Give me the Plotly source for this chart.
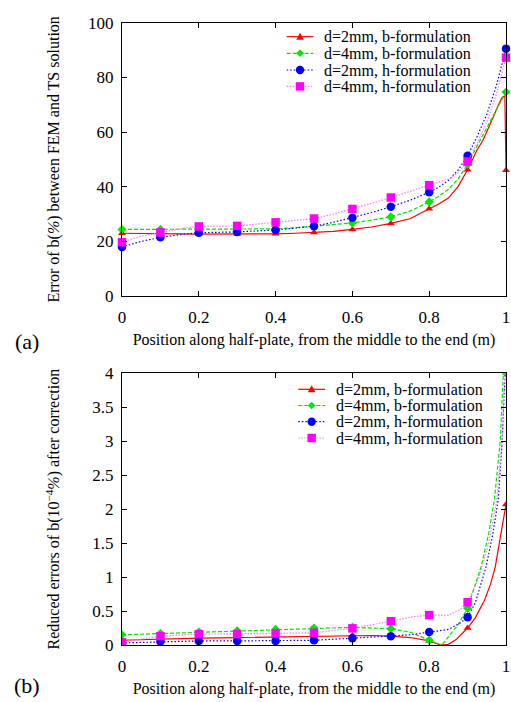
import plotly.graph_objects as go

# ---------------- data: panel (a) ----------------
series_names = ["d=2mm, b-formulation", "d=4mm, b-formulation",
                "d=2mm, h-formulation", "d=4mm, h-formulation"]

x_marks = [0, 0.1, 0.2, 0.3, 0.4, 0.5, 0.6, 0.7, 0.8, 0.9, 1.0]

a_red_x = [0, .05, .1, .15, .2, .25, .3, .35, .4, .45, .5, .55, .6, .65, .7, .75, .8,
           .825, .85, .875, .9, .91, .925, .94, .95, .96, .97, .98, .99, .997, 1.0]
a_red_y = [22.9, 22.9, 22.8, 22.7, 22.6, 22.6, 22.6, 22.6, 22.7, 22.9, 23.2, 23.6, 24.3,
           25.2, 26.5, 28.2, 31.9, 33.6, 35.8, 40.0, 46.2, 49.0, 53.5, 57.0, 60.0, 63.0,
           66.5, 69.9, 72.7, 73.3, 46.0]

a_green_x = [0, .1, .2, .3, .4, .45, .5, .55, .6, .65, .7, .75, .8, .825, .85, .875, .9,
             .925, .95, .975, .99, 1.0]
a_green_y = [24.3, 24.3, 24.3, 24.3, 24.5, 24.9, 25.5, 26.0, 26.7, 27.7, 28.9, 31.0, 34.4,
             36.5, 39.0, 42.8, 48.2, 55.0, 61.5, 68.5, 72.3, 74.7]

a_blue_x = [0, .05, .1, .15, .2, .3, .4, .45, .5, .55, .6, .65, .7, .75, .8, .825, .85,
            .875, .9, .925, .95, .975, 1.0]
a_blue_y = [17.9, 19.9, 21.4, 22.4, 23.1, 23.4, 24.1, 24.7, 25.5, 26.9, 28.6, 30.5, 32.6,
            35.0, 37.9, 39.8, 42.3, 46.0, 51.3, 58.5, 66.5, 77.0, 90.6]

a_mag_x = [0, .05, .1, .15, .2, .3, .4, .45, .5, .55, .6, .65, .7, .75, .8, .825, .85,
           .875, .9, .925, .95, .975, 1.0]
a_mag_y = [19.6, 21.8, 23.2, 24.5, 25.4, 25.6, 26.9, 27.5, 28.3, 29.9, 31.8, 33.9, 36.0,
           38.3, 40.5, 41.6, 42.8, 45.0, 49.2, 56.0, 63.7, 74.0, 87.3]

a_red_marks = [22.9, 22.8, 22.6, 22.6, 22.7, 23.2, 24.3, 26.5, 31.9, 46.2, 46.0]
a_green_marks = [24.3, 24.3, 24.3, 24.3, 24.5, 25.5, 26.7, 28.9, 34.4, 48.2, 74.7]
a_blue_marks = [17.9, 21.4, 23.1, 23.4, 24.1, 25.5, 28.6, 32.6, 37.9, 51.3, 90.6]
a_mag_marks = [19.6, 23.2, 25.4, 25.6, 26.9, 28.3, 31.8, 36.0, 40.5, 49.2, 87.3]

# ---------------- data: panel (b) ----------------
b_red_x = [0, .1, .2, .3, .4, .5, .6, .65, .7, .75, .8, .83, .85, .87, .9, .92, .944,
           .96, .972, .987, 1.0]
b_red_y = [0.07, 0.09, 0.10, 0.11, 0.12, 0.13, 0.14, 0.14, 0.13, 0.11, 0.06, 0.0, 0.01,
           0.08, 0.25, 0.40, 0.66, 0.90, 1.15, 1.65, 2.07]

b_green_x = [0, .1, .2, .3, .4, .5, .6, .7, .75, .8, .833, .85, .875, .9, .935, .955,
             .97, .985, .993, 1.0]
b_green_y = [0.15, 0.17, 0.19, 0.21, 0.23, 0.25, 0.26, 0.24, 0.19, 0.07, 0.0, 0.12, 0.30,
             0.54, 1.15, 1.64, 2.15, 3.0, 3.98, 4.0]

b_blue_x = [0, .1, .2, .3, .4, .5, .6, .7, .75, .8, .85, .88, .9, .92, .948, .966, .98,
            .99, 1.0]
b_blue_y = [0.03, 0.05, 0.06, 0.06, 0.06, 0.07, 0.10, 0.13, 0.15, 0.19, 0.23, 0.32, 0.41,
            0.62, 1.15, 1.64, 2.15, 3.0, 4.3]

b_mag_x = [0, .1, .2, .3, .4, .5, .6, .7, .75, .8, .85, .88, .9, .93, .955, .975, .99, 1.0]
b_mag_y = [0.04, 0.13, 0.16, 0.16, 0.17, 0.18, 0.245, 0.35, 0.41, 0.44, 0.44, 0.52, 0.63,
           1.0, 1.5, 2.1, 3.0, 4.4]

b_red_marks = [0.07, 0.09, 0.10, 0.11, 0.12, 0.13, 0.14, 0.13, 0.06, 0.25, 2.07]
b_green_marks = [0.15, 0.17, 0.19, 0.21, 0.23, 0.25, 0.26, 0.24, 0.07, 0.54, 4.0]
b_blue_marks = [0.03, 0.05, 0.06, 0.06, 0.06, 0.07, 0.10, 0.13, 0.19, 0.41, 4.3]
b_mag_marks = [0.04, 0.13, 0.16, 0.16, 0.17, 0.18, 0.245, 0.35, 0.44, 0.63, 4.4]

# ---------------- styles ----------------
FONT = "Liberation Serif, Times New Roman, serif"
COLORS_LINE = ["#ff0000", "#00e600", "#0000ff", "#ff77ff"]
COLORS_MARK = ["#ff0000", "#00e600", "#0000ff", "#ff00ff"]
DASHES = ["solid", "4px,2px", "1.5px,2px", "1.5px,1.5px"]
SYMBOLS = ["triangle-up", "diamond", "circle", "square"]
SIZES = [7, 7, 8.5, 8.5]

W, H = 511, 702
ML, MR, MT, MB = 122, 5, 23, 57
PW, PH = W - ML - MR, H - MT - MB


def px2paper(px, py):
    return (px - ML) / PW, (H - MB - py) / PH


fig = go.Figure()

panels = [
    ("x", "y", [(a_red_x, a_red_y, a_red_marks), (a_green_x, a_green_y, a_green_marks),
                (a_blue_x, a_blue_y, a_blue_marks), (a_mag_x, a_mag_y, a_mag_marks)], False),
    ("x2", "y2", [(b_red_x, b_red_y, b_red_marks), (b_green_x, b_green_y, b_green_marks),
                  (b_blue_x, b_blue_y, b_blue_marks), (b_mag_x, b_mag_y, b_mag_marks)], True),
]

for xa, ya, series, clip in panels:
    for i, (xs, ys, ms) in enumerate(series):
        fig.add_trace(go.Scatter(x=xs, y=ys, mode="lines", name=series_names[i],
                                 line=dict(color=COLORS_LINE[i], width=1.2, dash=DASHES[i]),
                                 xaxis=xa, yaxis=ya, showlegend=False))
        fig.add_trace(go.Scatter(x=x_marks, y=ms, mode="markers", name=series_names[i],
                                 marker=dict(symbol=SYMBOLS[i], size=SIZES[i], color=COLORS_MARK[i]),
                                 xaxis=xa, yaxis=ya, showlegend=False, cliponaxis=clip))

# ---------------- hand-drawn legends (text + key samples) ----------------
shapes, annotations = [], []
legend_specs = [
    # (row centres y px, key line x0 px, key line x1 px, text left px)
    ([36.7, 53.3, 70.0, 86.4], 286.7, 313.3, 322.0),
    ([389.3, 405.5, 421.7, 438.0], 298.3, 325.0, 333.5),
]
for rows, kx0, kx1, tx in legend_specs:
    for i, ry in enumerate(rows):
        x0, y0 = px2paper(kx0, ry)
        x1, _ = px2paper(kx1, ry)
        xm, _ = px2paper((kx0 + kx1) / 2, ry)
        xt, _ = px2paper(tx, ry)
        shapes.append(dict(type="line", xref="paper", yref="paper", x0=x0, x1=x1, y0=y0, y1=y0,
                           line=dict(color=COLORS_LINE[i], width=1.2, dash=DASHES[i])))
        mk = dict(xref="paper", yref="paper", xsizemode="pixel", ysizemode="pixel",
                  xanchor=xm, yanchor=y0, fillcolor=COLORS_MARK[i], line=dict(width=0))
        if i == 0:
            mk.update(type="path", path="M-3.8,-3 L3.8,-3 L0,4 Z")
        elif i == 1:
            mk.update(type="path", path="M0,-3.8 L3.8,0 L0,3.8 L-3.8,0 Z")
        elif i == 2:
            mk.update(type="circle", x0=-4.2, x1=4.2, y0=-4.2, y1=4.2)
        else:
            mk.update(type="rect", x0=-4.2, x1=4.2, y0=-4.2, y1=4.2)
        shapes.append(mk)
        annotations.append(dict(text=series_names[i], xref="paper", yref="paper", x=xt, y=y0,
                                xanchor="left", yanchor="middle", showarrow=False,
                                font=dict(family=FONT, size=16, color="black")))

ax_a = px2paper(27, 341.5)
ax_b = px2paper(27, 686)
annotations += [
    dict(text="(a)", xref="paper", yref="paper", x=ax_a[0], y=ax_a[1],
         xanchor="center", yanchor="middle", borderpad=0,
         showarrow=False, font=dict(family=FONT, size=22, color="black")),
    dict(text="(b)", xref="paper", yref="paper", x=ax_b[0], y=ax_b[1],
         xanchor="center", yanchor="middle", borderpad=0,
         showarrow=False, font=dict(family=FONT, size=22, color="black")),
]

axis_common = dict(showline=True, linecolor="black", linewidth=1, mirror="ticks",
                   ticks="inside", ticklen=5, tickcolor="black", showgrid=False,
                   zeroline=False, automargin=False,
                   tickfont=dict(family=FONT, size=17, color="black"))

xtitle = "Position along half-plate, from the middle to the end (m)"
top_lo = (H - MB - 295.7) / PH
bot_hi = (H - MB - 373.3) / PH

fig.update_layout(
    width=W, height=H,
    margin=dict(l=ML, r=MR, t=MT, b=MB),
    paper_bgcolor="white", plot_bgcolor="white",
    font=dict(family=FONT, color="black"),
    showlegend=False,
    xaxis=dict(domain=[0, 1], anchor="y", range=[0, 1], dtick=0.2, ticklabelstandoff=6,
               **axis_common,
               title=dict(text=xtitle, font=dict(family=FONT, size=16), standoff=7)),
    yaxis=dict(domain=[top_lo, 1], anchor="x", range=[0, 100], dtick=20, ticklabelstandoff=4,
               **axis_common,
               title=dict(text="Error of b(<i>%</i>) between FEM and TS solution",
                          font=dict(family=FONT, size=16), standoff=24)),
    xaxis2=dict(domain=[0, 1], anchor="y2", range=[0, 1], dtick=0.2, ticklabelstandoff=6,
                **axis_common,
                title=dict(text=xtitle, font=dict(family=FONT, size=16), standoff=7)),
    yaxis2=dict(domain=[0, bot_hi], anchor="x2", range=[0, 4], dtick=0.5, ticklabelstandoff=4,
                **axis_common,
                title=dict(text="Reduced errors of b(10<sup>−4</sup><i>%</i>) after correction",
                           font=dict(family=FONT, size=16), standoff=28)),
    shapes=shapes,
    annotations=annotations,
)

fig.write_html("out.html", config={"displayModeBar": False},
               post_script="document.body.style.margin='0px';")
